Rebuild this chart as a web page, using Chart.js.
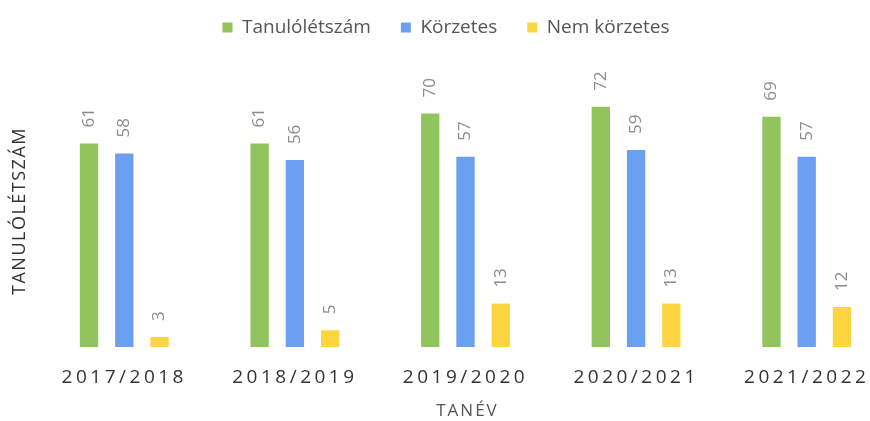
<!DOCTYPE html>
<html>
<head>
<meta charset="utf-8">
<script src="https://cdn.jsdelivr.net/npm/chart.js@4.4.1/dist/chart.umd.min.js"></script>
<style>
  html, body { margin: 0; padding: 0; background: #fff; overflow: hidden; }
  #wrap { width: 900px; height: 421px; }
</style>
</head>
<body>
<div id="wrap"><canvas id="main-graph-canvas"></canvas></div>
<script>
const years = ['2017/2018', '2018/2019', '2019/2020', '2020/2021', '2021/2022']
const totalStudents = [61, 61, 70, 72, 69]
const districtStudents = [58, 56, 57, 59, 57]
const nonDistrictStudents = [3, 5, 13, 13, 12]

const FONT = '"Open Sans", "Liberation Sans", sans-serif'

// rotated value labels sitting above each bar
const barLabels = {
  id: 'barLabels',
  afterDatasetsDraw(chart) {
    const ctx = chart.ctx
    ctx.save()
    ctx.font = '17px ' + FONT
    ctx.fillStyle = '#8c8c8c'
    ctx.textAlign = 'left'
    ctx.textBaseline = 'middle'
    chart.data.datasets.forEach((ds, i) => {
      chart.getDatasetMeta(i).data.forEach((bar, j) => {
        ctx.save()
        ctx.translate(bar.x, bar.y - 16)
        ctx.rotate(-Math.PI / 2)
        ctx.fillText(String(ds.data[j]), 0, 0)
        ctx.restore()
      })
    })
    ctx.restore()
  }
}

// x labels and axis titles are letter-spaced in the original, so draw them here
const spacedText = {
  id: 'spacedText',
  afterDraw(chart) {
    const ctx = chart.ctx
    const x = chart.scales.x
    const area = chart.chartArea
    ctx.save()
    ctx.textAlign = 'center'
    ctx.textBaseline = 'middle'

    ctx.font = '19px ' + FONT
    ctx.letterSpacing = '3.5px'
    ctx.fillStyle = '#333'
    chart.data.labels.forEach((label, i) => {
      ctx.fillText(label, x.getPixelForValue(i), x.top + 31)
    })

    ctx.font = '17px ' + FONT
    ctx.letterSpacing = '2px'
    ctx.fillStyle = '#555'
    ctx.fillText('TANÉV', (area.left + area.right) / 2 + 2, x.top + 64)

    ctx.font = '18px ' + FONT
    ctx.letterSpacing = '1.5px'
    ctx.fillStyle = '#333'
    ctx.save()
    ctx.translate(20, 211)
    ctx.rotate(-Math.PI / 2)
    ctx.fillText('TANULÓLÉTSZÁM', 0, 0)
    ctx.restore()

    ctx.restore()
  }
}

// keep the legend near the top edge but leave room below it
const legendRoom = {
  id: 'legendRoom',
  beforeInit(chart) {
    const fit = chart.legend.fit
    chart.legend.fit = function () {
      fit.bind(chart.legend)()
      this.height = 92
    }
  }
}

const ctx = document.getElementById('main-graph-canvas').getContext('2d')
new Chart(ctx, {
  type: 'bar',
  data: {
    labels: years,
    datasets: [
      { label: 'Tanulólétszám', data: totalStudents, backgroundColor: '#92c45d' },
      { label: 'Körzetes', data: districtStudents, backgroundColor: '#6a9ff2' },
      { label: 'Nem körzetes', data: nonDistrictStudents, backgroundColor: '#fdd540' }
    ]
  },
  options: {
    animation: false,
    responsive: true,
    maintainAspectRatio: false,
    layout: { padding: { top: -12, right: 8, left: 0, bottom: 0 } },
    datasets: {
      bar: { categoryPercentage: 0.62, barPercentage: 0.52 }
    },
    plugins: {
      tooltip: { enabled: false },
      legend: {
        position: 'top',
        labels: {
          boxWidth: 10,
          boxHeight: 10,
          padding: 30,
          color: '#555',
          font: { family: FONT, size: 19 }
        }
      }
    },
    scales: {
      x: {
        grid: { display: false },
        border: { display: false },
        ticks: { display: false },
        afterFit: (s) => { s.height = 74 }
      },
      y: {
        min: 0,
        max: 80,
        grid: { display: false },
        border: { display: false },
        ticks: { display: false },
        afterFit: (s) => { s.width = 39 }
      }
    }
  },
  plugins: [legendRoom, barLabels, spacedText]
})
</script>
</body>
</html>
